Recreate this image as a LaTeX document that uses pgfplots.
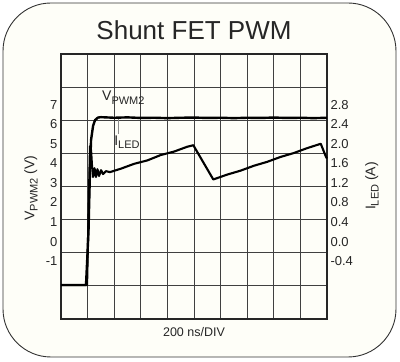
\documentclass[border=0pt]{standalone}
\usepackage{pgfplots}
\pgfplotsset{compat=1.18}
\usepackage{pgfplotstable}
\usepackage{fontspec}
\setmainfont{Liberation Sans}
\definecolor{bgcream}{RGB}{254,254,248}
\definecolor{txt}{RGB}{38,38,38}
\newcommand\sub[1]{\raisebox{-0.45ex}{\fontsize{11}{11}\selectfont #1}}

% V_PWM2 trace: time (ns), volts
\pgfplotstableread{
t v
0 -2.22
100 -2.22
188 -2.22
198 -0.8
207 0.59
218 3.66
226 5.19
241 5.91
256 6.21
278 6.34
300 6.36
400 6.33
500 6.35
600 6.32
700 6.33
800 6.31
900 6.33
1000 6.34
1100 6.32
1200 6.33
1300 6.31
1400 6.33
1500 6.32
1600 6.34
1700 6.32
1800 6.33
1900 6.31
2000 6.33
}\vpwm

% I_LED trace: time (ns), amps
\pgfplotstableread{
t a
0 -0.89
100 -0.89
196 -0.89
203 0.03
211 1.05
218 1.95
226 1.87
233 1.56
241 1.32
252 1.50
263 1.32
274 1.48
286 1.34
301 1.46
316 1.38
338 1.44
368 1.42
450 1.49
550 1.59
650 1.66
750 1.77
850 1.84
950 1.94
995 1.97
1145 1.27
1250 1.37
1350 1.45
1450 1.55
1550 1.63
1650 1.73
1750 1.81
1850 1.91
1953 2.00
1993 1.73
2000 1.70
}\iled

\begin{document}
\begin{tikzpicture}[x=1pt,y=1pt]
\useasboundingbox (0,0) rectangle (400,362);
\draw[rounded corners=48pt, fill=bgcream, draw=black!80, line width=0.9pt] (3,5) rectangle (396,359);
\node[text=txt, font=\fontsize{26}{26}\selectfont] at (194,332) {Shunt FET PWM};
\node[text=txt, font=\fontsize{12.5}{12.5}\selectfont] at (194,30) {200 ns/DIV};

% grid
\begin{axis}[at={(61pt,43pt)}, anchor=south west, scale only axis,
  width=266pt, height=265pt,
  xmin=0, xmax=10, ymin=0, ymax=8,
  xtick={0,...,10}, ytick={0,...,8},
  xticklabels={}, yticklabels={},
  major tick length=0pt,
  grid=major, grid style={black!75, line width=0.8pt},
  axis line style={black!85, line width=1.3pt}]
\end{axis}

% voltage axis (left)
\begin{axis}[at={(61pt,43pt)}, anchor=south west, scale only axis,
  width=266pt, height=265pt,
  xmin=0, xmax=2000, ymin=-3.96, ymax=9.59,
  axis line style={draw=none}, xtick=\empty,
  ytick={-1,0,1,2,3,4,5,6,7},
  yticklabels={-1,0,1,2,3,4,5,6,7},
  major tick length=0pt,
  yticklabel style={font=\fontsize{13}{13}\selectfont, text=txt},
  ylabel={V\sub{PWM2} (V)},
  ylabel style={at={(axis description cs:-0.113,0.494)}, anchor=center, font=\fontsize{14}{14}\selectfont, text=txt},
  clip=false]
\addplot[black, line width=2.4pt, line join=round] table[x=t, y=v] {\vpwm};
\node[anchor=base west, text=txt, font=\fontsize{14}{14}\selectfont, inner sep=0pt] at (axis cs:308,7.20) {V\sub{PWM2}};
\draw[black!45, line width=0.5pt] (axis cs:429,6.25) -- (axis cs:429,5.5);
\end{axis}

% current axis (right)
\begin{axis}[at={(61pt,43pt)}, anchor=south west, scale only axis,
  width=266pt, height=265pt,
  xmin=0, xmax=2000, ymin=-1.584, ymax=3.836,
  axis line style={draw=none}, xtick=\empty,
  ytick={-0.4,0,0.4,0.8,1.2,1.6,2.0,2.4,2.8},
  yticklabels={-0.4,0.0,0.4,0.8,1.2,1.6,2.0,2.4,2.8},
  yticklabel pos=right,
  major tick length=0pt,
  yticklabel style={font=\fontsize{13}{13}\selectfont, text=txt},
  ylabel={I\sub{LED} (A)},
  ylabel style={at={(axis description cs:1.169,0.502)}, anchor=center, font=\fontsize{14}{14}\selectfont, text=txt},
  clip=false]
\addplot[black, line width=2.1pt, line join=round] table[x=t, y=a] {\iled};
\node[anchor=base west, text=txt, font=\fontsize{14}{14}\selectfont, inner sep=0pt] at (axis cs:399,1.97) {I\sub{LED}};
\end{axis}
\end{tikzpicture}
\end{document}
